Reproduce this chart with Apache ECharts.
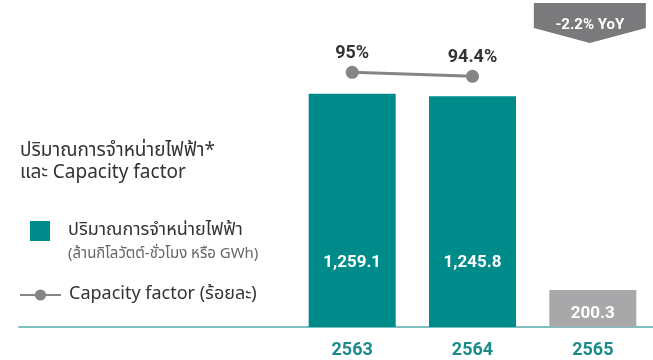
<!DOCTYPE html>
<html>
<head>
<meta charset="utf-8">
<script src="https://cdn.jsdelivr.net/npm/echarts@6/dist/echarts.min.js"></script>
<style>
  html, body { margin: 0; padding: 0; background: #ffffff; }
  #chart { width: 653px; height: 360px; }
</style>
</head>
<body>
<div id="chart"></div>
<script>
// Electricity sales (GWh) by Thai fiscal year and plant capacity factor (%)
const years = ['2563', '2564', '2565'];
const salesGWh = [1259.1, 1245.8, 200.3];
const capacityFactor = [95, 94.4, null];
const yoyChange = '-2.2% YoY';

const headingText = 'ปริมาณการจำหน่ายไฟฟ้า*\nและ Capacity factor';
const salesName = 'ปริมาณการจำหน่ายไฟฟ้า';
const salesUnit = '(ล้านกิโลวัตต์-ชั่วโมง หรือ GWh)';
const capacityName = 'Capacity factor (ร้อยละ)';

const TEAL = '#008b8b';
const PARTIAL_GREY = '#a8a8ab';
const LINE_GREY = '#858588';
const THAI_FONT = '"Noto Sans Thai", "Noto Sans", "DejaVu Sans", sans-serif';
const NUM_FONT = 'Roboto, "Noto Sans", sans-serif';

const chart = echarts.init(document.getElementById('chart'), null, { renderer: 'canvas' });

// the most recent year is only a partial period, shown in grey
const barData = salesGWh.map((v, i) => {
  const partial = i === salesGWh.length - 1;
  return {
    value: v,
    itemStyle: { color: partial ? PARTIAL_GREY : TEAL },
    label: partial ? { distance: 5 } : { distance: 56 }
  };
});

chart.setOption({
  animation: false,
  title: [
    {
      text: headingText,
      left: 20, top: 141,
      padding: 0,
      textStyle: { fontFamily: THAI_FONT, fontSize: 19, fontWeight: 'normal', color: '#333333', lineHeight: 22 }
    },
    {
      text: salesUnit,
      left: 68, top: 246,
      padding: 0,
      textStyle: { fontFamily: THAI_FONT, fontSize: 15, fontWeight: 'normal', color: '#666666', lineHeight: 18 }
    }
  ],
  legend: [
    {
      data: [salesName],
      left: 30, top: 221,
      padding: 0,
      itemWidth: 20, itemHeight: 20,
      icon: 'rect',
      selectedMode: false,
      textStyle: { fontFamily: THAI_FONT, fontSize: 18, color: '#333333', padding: [0, 0, 0, 13] }
    },
    {
      data: [capacityName],
      left: 19, top: 286,
      padding: 0,
      itemWidth: 41, itemHeight: 14,
      selectedMode: false,
      textStyle: { fontFamily: THAI_FONT, fontSize: 18, color: '#333333', padding: [0, 0, 0, 3] }
    }
  ],
  grid: [
    { left: 292, right: -4, top: 27, bottom: 33 },
    { left: 19, right: 0, top: 27, bottom: 33 }
  ],
  xAxis: [
    {
      type: 'category',
      gridIndex: 0,
      data: years,
      axisLine: { show: false },
      axisTick: { show: false },
      axisLabel: { margin: 14, fontFamily: NUM_FONT, fontSize: 18, fontWeight: 'bold', color: '#1a8a8a' }
    },
    {
      // full-width baseline under the plot
      type: 'value',
      gridIndex: 1,
      min: 0, max: 1,
      axisLine: { show: true, lineStyle: { color: '#7cc0c0', width: 2 } },
      axisTick: { show: false },
      axisLabel: { show: false },
      splitLine: { show: false }
    }
  ],
  yAxis: [
    { type: 'value', gridIndex: 0, min: 0, max: 1620, show: false, splitLine: { show: false } },
    { type: 'value', gridIndex: 0, min: 56.8, max: 101.8, show: false, splitLine: { show: false } },
    { type: 'value', gridIndex: 1, min: 0, max: 1, show: false, splitLine: { show: false } }
  ],
  series: [
    {
      name: salesName,
      type: 'bar',
      xAxisIndex: 0, yAxisIndex: 0,
      barWidth: 87,
      itemStyle: { color: TEAL },
      data: barData,
      label: {
        show: true,
        position: 'insideBottom',
        fontFamily: NUM_FONT,
        fontSize: 17,
        fontWeight: 'bold',
        color: '#ffffff',
        formatter: p => p.value.toLocaleString('en-US', { minimumFractionDigits: 1, maximumFractionDigits: 1 })
      },
      z: 3
    },
    {
      name: capacityName,
      type: 'line',
      xAxisIndex: 0, yAxisIndex: 1,
      data: capacityFactor,
      symbol: 'circle',
      symbolSize: 13,
      lineStyle: { color: LINE_GREY, width: 3 },
      itemStyle: { color: LINE_GREY },
      label: {
        show: true,
        position: 'top',
        distance: 3,
        fontFamily: NUM_FONT,
        fontSize: 18,
        fontWeight: 'bold',
        color: '#333333',
        formatter: p => p.value + '%'
      },
      z: 4
    }
  ]
});

// year-on-year badge pointing down at the last year
const cx = chart.convertToPixel({ xAxisIndex: 0 }, years[years.length - 1]) - 3;
chart.setOption({
  graphic: [
    {
      type: 'polygon',
      shape: { points: [[cx - 56, 3], [cx + 56, 3], [cx + 56, 28], [cx, 43], [cx - 56, 28]] },
      style: { fill: '#7a7a7d' },
      z: 10
    },
    {
      type: 'text',
      x: cx, y: 25,
      style: {
        text: yoyChange,
        fill: '#ffffff',
        font: 'bold 15px ' + NUM_FONT,
        align: 'center',
        verticalAlign: 'middle'
      },
      z: 11
    }
  ]
});
</script>
</body>
</html>
